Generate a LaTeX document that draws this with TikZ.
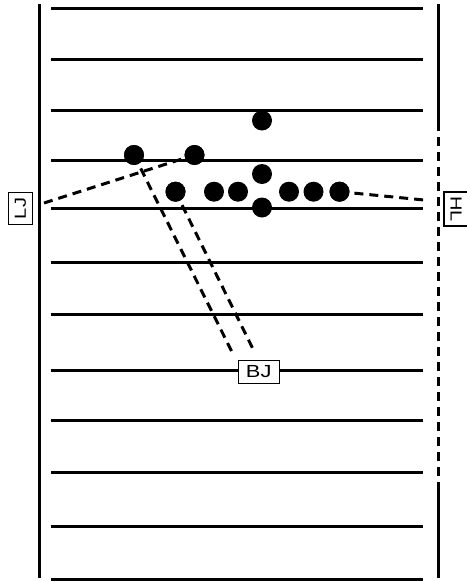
\documentclass[tikz,border=0pt]{standalone}
\usepackage{fontspec}
\newfontfamily\labfont[FakeStretch=1.25]{Liberation Sans}
\begin{document}
\begin{tikzpicture}[x=1pt,y=-1pt,
  yardline/.style={line width=3pt},
  sideline/.style={line width=3pt},
  player/.style={circle,fill=black,inner sep=0pt,minimum size=20pt},
  pathline/.style={line width=3pt,dash pattern=on 9pt off 6pt},
  official/.style={draw,line width=1.3pt,fill=white,inner sep=0pt}]
\useasboundingbox (0,0) rectangle (466,581);
% yard lines
\foreach \y in {8,59,110,160.5,208,262,314,370,420,472,526,579}
  \draw[yardline] (51,\y) -- (423,\y);
% sidelines
\draw[sideline] (39,4) -- (39,578);
\draw[sideline] (438,4) -- (438,122);
\draw[sideline,dash pattern=on 9pt off 6pt] (438,122) -- (438,485);
\draw[sideline] (438,485) -- (438,578);
% players
\node[player] (p1) at (262,120.5) {};
\node[player] (p2) at (134,155) {};
\node[player] (p3) at (194.5,155) {};
\node[player] (p4) at (262,174) {};
\node[player] (p5) at (175.5,191.7) {};
\node[player] (p6) at (214,191.7) {};
\node[player] (p7) at (238,191.7) {};
\node[player] (p8) at (262,207.5) {};
\node[player] (p9) at (289,191.7) {};
\node[player] (p10) at (313.5,191.7) {};
\node[player] (p11) at (339.5,191.7) {};
% officials
\node[official,minimum width=41pt,minimum height=23pt,font=\labfont\fontsize{17.5}{17.5}\selectfont] (bj) at (258.7,371.7) {BJ};
\node[official,rotate=90,minimum width=32pt,minimum height=24pt,font=\labfont\fontsize{16}{16}\selectfont] (lj) at (20.5,208.5) {LJ};
\node[official,rotate=-90,minimum width=34pt,minimum height=24pt,font=\labfont\fontsize{16}{16}\selectfont] (hl) at (456,209) {HL};
% path ends
\coordinate (ljend) at (44,203);
\coordinate (hlend) at (424,200);
\coordinate (bjend1) at (234,356);
\coordinate (bjend2) at (254,351);
% paths
\draw[pathline] (ljend) -- (p3.center);
\draw[pathline] (p11.center) -- (hlend);
\draw[pathline] (p2.center) -- (bjend1);
\draw[pathline] (p5.center) -- (bjend2);
% redraw players on top
\foreach \n in {p2,p3,p5,p11}
  \fill (\n.center) circle (10pt);
\end{tikzpicture}
\end{document}
